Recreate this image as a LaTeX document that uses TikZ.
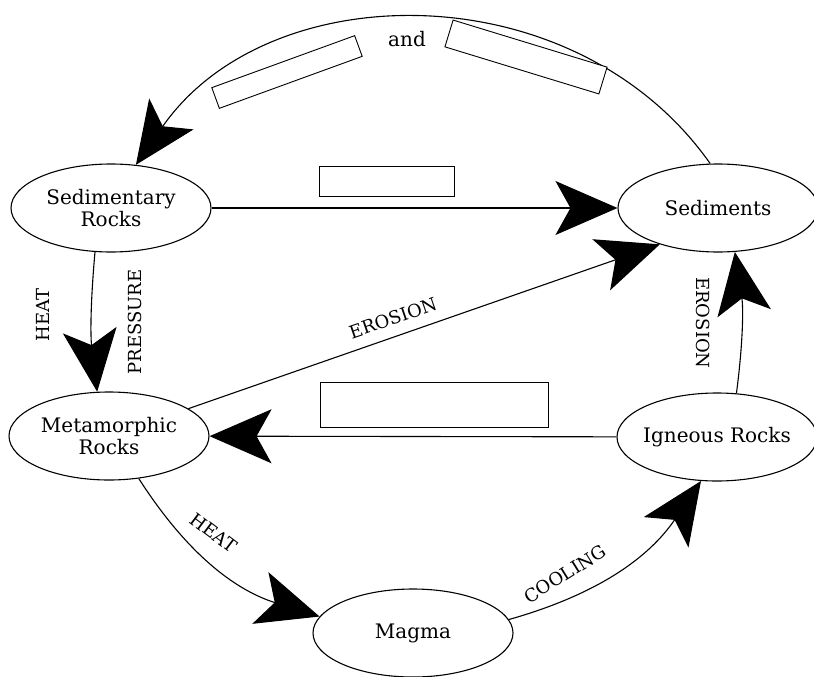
\documentclass[tikz,border=0pt]{standalone}
\usepackage{fontspec}
\setmainfont{DejaVu Serif}
\usetikzlibrary{positioning, arrows.meta, shapes, calc}
\tikzset{
    rock/.style={ % Sets the properties for each stage of the cycle
        ellipse, draw,
        line width=1.1pt,
        minimum width=200pt, minimum height=88pt,
        inner xsep=-14pt, inner ysep=0pt,
        align=center,
        font=\fontsize{20}{22}\selectfont
    },
    blank/.style={ % Empty answer boxes
        draw, fill=white,
        line width=0.9pt,
        inner sep=0pt
    },
    lbl/.style={font=\fontsize{18}{20}\selectfont}, % Process names
    every edge/.style={ % Sets the properties for each transition
        draw,
        -{Stealth[length=62pt, width=54pt, inset=15pt]}, % Big filled heads
        line width=1.1pt
    }
}

\begin{document}
\begin{tikzpicture}[x=1pt, y=-1pt]
    \path[use as bounding box, fill=white] (0,0) rectangle (814,677);

    \node[rock] (sedrocks)  at (111,208) {Sedimentary\\Rocks};
    \node[rock] (sediments) at (718,208) {Sediments};
    \node[rock] (metrocks)  at (109,436) {Metamorphic\\Rocks};
    \node[rock] (igrocks)   at (717,437) {Igneous Rocks};
    \node[rock] (magma)     at (413,633) {Magma};

    \draw   (sediments.100)   edge[bend right=55, looseness=1.04] (sedrocks.60)
            (sedrocks)        edge                             (sediments)
            (sedrocks.250)    edge[bend right=6]               (metrocks.105)
            (metrocks.19)     edge                             (sediments.212)
            (igrocks.66)      edge[bend right=8]               (sediments.291)
            (igrocks)         edge                             (metrocks)
            (metrocks.305)    edge[bend right=20]              (magma.170)
            (magma.8)         edge[bend right=20]              (igrocks.250)
    ;

    % labels
    \node[font=\fontsize{20}{22}\selectfont] (andlbl) at (407,39) {and};
    \node[lbl, rotate=90]  (heatA)    at (43,315)  {HEAT};
    \node[lbl, rotate=90]  (pressure) at (135,322) {PRESSURE};
    \node[lbl, rotate=19]  (erosionA) at (393,318) {EROSION};
    \node[lbl, rotate=-90] (erosionB) at (703,323) {EROSION};
    \node[lbl, rotate=-37] (heatB)    at (214,533) {HEAT};
    \node[lbl, rotate=32]  (cooling)  at (565,574) {COOLING};

    % blanks
    \node[blank, minimum width=152pt, minimum height=22pt, rotate=20]  (blankA) at (287,72)  {};
    \node[blank, minimum width=161pt, minimum height=28pt, rotate=-17] (blankB) at (526,57)  {};
    \node[blank, minimum width=135pt, minimum height=30pt]             (blankC) at (387,181) {};
    \node[blank, minimum width=228pt, minimum height=45pt]             (blankD) at (434,405) {};
\end{tikzpicture}
\end{document}
